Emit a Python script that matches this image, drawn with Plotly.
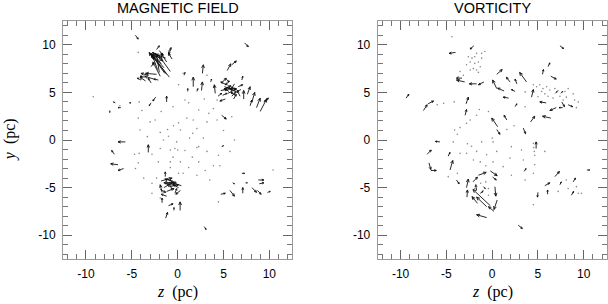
import math
import plotly.graph_objects as go

# ---------------- data (pc) ----------------
# MAGNETIC FIELD panel: arrow tails (x=z, y) and components (u, v)
mag_x = [-0.9, -1.2, -1.5, -2.2, -1.8, -3.1, -2.6, -1.3, -1.0, -2.0, -1.6, -0.7,
         -2.3, -2.6, -3.2, -3.5, -2.9,
         -1.4, -0.8, -1.9, -2.4, -2.8, -1.2, -0.6, -2.0, -2.9, -3.6, -4.0, -2.1,
         -4.6, -2.3, 0.7, 1.7, 2.7, 2.6, 4.1, 3.6, 1.1, 2.1, 5.4, 5.9, 7.3, 7.0,
         4.8, 5.0, 5.3, 5.7, 5.5, 6.0, 6.2, 6.5, 4.9, 6.8, 7.2, 7.6, 8.1, 8.6, 9.0,
         9.4, 7.9, 5.2, 4.4, 5.8, 6.6, 4.8,
         5.1, 5.6, 6.3, 4.7, 5.9, 6.9, 5.3, 6.1,
         -2.4, -1.2, -2.9, -5.3, -6.8, -6.2, -7.4,
         -5.7, -3.2, -6.9, -6.5, -5.9, -1.35,
         -1.8, -0.2, 0.4, -1.5, -0.5, 0.3, -1.7, -1.1, -1.2, -0.3, -1.7, -1.0, -0.4,
         0.27, -1.3, -1.4, -0.9, -0.6, -1.9, 0.1, -1.2,
         4.7, 5.7, 6.0, 7.0, 7.1, 7.4, 8.1, 8.8, 8.9, 8.7, 9.8, 2.9, 4.8]
mag_y = [6.6, 6.9, 7.6, 7.4, 8.0, 9.1, 8.4, 8.6, 9.3, 7.1, 9.0, 9.6,
         6.9, 6.4, 6.8, 6.2, 6.0,
         7.0, 7.2, 6.7, 8.9, 9.2, 8.2, 8.5, 9.4, 7.7, 6.6, 6.3, 6.3,
         11.0, 9.5, 6.8, 5.6, 7.0, 5.2, 4.9, 6.1, 5.1, 5.1, 7.3, 7.9, 10.2, 6.3,
         6.0, 5.3, 5.8, 6.2, 4.9, 5.3, 5.9, 5.0, 4.7, 4.6, 4.3, 4.8, 4.0, 3.4, 3.0,
         4.0, 3.6, 4.3, 4.6, 5.6, 5.6, 2.6,
         5.6, 5.1, 4.7, 5.2, 4.6, 5.3, 6.4, 4.3,
         4.5, 4.0, 3.9, 3.9, 3.9, 3.4, 3.1,
         -0.2, -1.3, -1.5, -2.6, -3.0, -3.85,
         -4.3, -4.4, -4.8, -5.0, -5.2, -5.3, -5.5, -4.1, -5.9, -5.6, -6.6, -6.9, -7.4,
         -7.4, -8.2, -4.6, -4.9, -4.3, -5.2, -5.0, -5.4,
         -5.7, -5.3, -4.5, -3.5, -5.6, -4.5, -5.0, -4.2, -4.6, -5.3, -5.5, -9.1, -0.7]
mag_u = [-2.0, -1.7, -1.3, -0.6, -0.9, 0.6, -0.5, -1.1, 0.3, -0.3, -0.8, -0.3,
         -1.2, -1.0, -0.8, -0.6, -0.3,
         -1.4, -1.2, -0.8, 0.8, 0.5, -0.6, -0.4, 0.4, 0.3, -0.5, -0.4, -0.5,
         0.3, 0.3, 0.1, 0.0, 0.1, 0.1, -0.1, 0.1, 0.0, 0.1, 0.4, 0.5, 0.4, 0.1,
         0.5, 0.8, -0.6, -0.5, 0.9, -0.9, -0.4, -0.8, 0.5, -0.3, 0.0, 0.3, 0.3, 0.4, 0.7,
         0.5, 0.2, -0.6, 0.4, 0.6, 0.5, 0.5,
         0.6, -0.5, -0.5, 0.7, 0.4, -0.4, 0.3, 0.3,
         -0.3, 0.0, -0.2, 0.2, -0.2, -0.3, 0.0,
         -0.8, 0.0, -0.3, -0.8, -0.6, 0.0,
         1.2, -1.3, -0.9, 0.9, -0.6, -0.5, -0.2, 0.7, -0.6, 0.2, 0.0, 0.5, 0.0,
         0.0, 0.2, 1.1, 1.0, -0.8, 0.6, -0.6, 0.8,
         0.5, 0.5, 0.2, 0.3, 0.0, 0.2, 0.5, 0.6, 0.5, 0.4, 0.3, 0.2, 0.2]
mag_v = [2.4, 2.2, 1.4, 1.6, 1.2, -0.5, 0.8, 0.4, 0.4, 1.9, -0.2, -0.6,
         0.1, 0.3, 0.2, 0.4, 0.5,
         1.9, 1.6, 1.5, -0.6, -0.2, 0.9, 0.6, -0.5, 0.4, 0.1, 0.2, 0.1,
         -0.4, 0.4, 0.3, 1.0, 0.9, 0.9, 0.9, 0.3, 0.3, 0.3, 0.7, 0.4, -0.4, 0.4,
         0.5, 0.4, 0.3, -0.4, 0.5, 0.1, -0.6, 0.4, 0.2, 0.6, 0.9, 0.8, 1.0, 1.0, 1.3,
         0.4, 0.6, -0.2, 0.3, -0.3, 0.2, -0.4,
         -0.2, 0.3, 0.3, 0.1, 0.4, -0.2, -0.3, 0.5,
         -0.4, 0.6, -0.3, 0.0, 0.1, 0.0, -0.2,
         0.0, 0.8, 0.4, 0.1, -0.2, 0.5,
         0.3, -0.1, 0.3, 0.5, 0.6, -0.4, 0.8, -0.4, 0.2, 0.5, 0.5, 0.2, 0.3,
         0.9, 0.6, 0.0, 0.2, 0.2, -0.3, 0.3, 0.3,
         0.1, -0.6, -0.1, 0.0, 0.6, 0.0, -0.5, 0.0, 0.1, -0.4, 0.1, -0.3, 0.1]

# MAGNETIC FIELD panel: near-zero vectors (dots)
mag_dot_x = [-4.3, 0.6, 0.1, 3.2, 4.3, 3.9, 3.4, 2.3, 1.7, 1.0, 0.1, -0.45, -1.1, -1.9,
             -4.1, -3.3, -2.45, -3.0, -3.9, -4.3, -6.3, 1.65, 2.1, 3.2, 4.3, 2.8, 1.3,
             -0.1, -1.0, -1.55, 0.3, 2.3, -0.3, -4.7, -4.2, -2.8, -1.9, -0.8, 0.0, 0.8,
             2.1, 3.2, 4.45, 5.7, -2.1, -0.8, 0.3, 1.2, 2.3, 3.9, 4.6, -4.3, -4.6, -3.7,
             -2.8, -2.3, -0.8, 0.1, 0.6, 2.1, 3.5, -2.8, -1.9, 4.45, 10.4, -9.2, 5.9,
             -4.2, 1.2, 2.9, -0.5, 0.8, -1.8, 5.0, 6.2, -0.5, 1.6, 3.0]
mag_dot_y = [9.2, 7.0, 5.8, 6.8, 4.2, 3.3, 2.8, 3.15, 2.1, 2.3, 1.8, 1.5, 1.1, 0.8,
             1.05, 0.35, 2.1, 1.9, 3.1, 2.3, 3.6, 0.7, 1.2, 1.9, 2.1, 0.2, 0.2,
             -0.2, 0.4, 0.0, 1.05, -0.7, -0.9, -1.5, -1.4, -1.5, -0.9, -1.05, -1.05, -1.1,
             -0.8, -1.2, -1.6, -1.2, -2.3, -2.3, -2.3, -2.9, -2.3, -2.7, -2.7, -2.4, -3.0, -4.0,
             -4.55, -4.0, -2.9, -3.5, -3.5, -3.7, -4.2, -5.6, -6.1, -6.5, -3.15, 4.55, 2.45,
             4.0, 3.9, 4.3, 3.5, 4.2, 3.0, 1.0, 0.0, -1.8, -1.8, -3.2]

# VORTICITY panel: arrow tails and components
vor_x = [-4.0, -2.0, 7.4, -3.0, -3.3, -1.7, -0.9, 0.5, 0.5, 1.95, 1.3, 2.5, 3.75, 2.7,
         4.3, 5.5, 6.1, 6.4, 1.8, 2.5, 5.9, 7.0, 7.7, 7.6, 8.3, 7.5, 6.9,
         -9.4, -7.5, -7.0, -2.85, -2.95, 0.6, 1.6, 3.4, 4.2, 6.4, 0.5, -5.7, 4.8,
         -7.1, -6.9, -6.7, -4.8, -4.6, -3.9,
         -2.8, -2.1, -1.5, -0.2, 0.05, 0.3, 0.55, 0.2, -0.6, -0.2, -1.6, -2.75, -0.6,
         -1.7, -1.3, -0.95,
         2.85, 3.5, 5.0, 5.75, 6.05, 6.85, 7.4, 8.85, 8.65, 10.35]
vor_y = [9.2, 9.9, 9.9, 6.1, 6.5, 5.9, 6.1, 5.4, 6.9, 6.1, 5.15, 5.1, 6.1, 5.9,
         4.5, 6.9, 7.7, 6.7, 4.4, 3.5, 3.9, 3.4, 3.4, 4.0, 3.7, 4.9, 4.9,
         4.4, 3.1, 3.8, 3.8, 2.6, 1.4, 2.1, 1.25, 1.9, 2.3, 1.1, -0.2, -0.9,
         -1.5, -2.4, -3.2, -1.7, -3.15, -4.2,
         -5.0, -4.4, -3.7, -3.25, -3.9, -4.9, -6.3, -7.5, -7.0, -6.9, -6.65, -6.0, -8.15,
         -5.3, -5.6, -4.9,
         -8.95, -3.3, -5.5, -4.8, -5.7, -3.85, -4.7, -4.4, -5.8, -3.15]
vor_u = [-0.7, -0.4, 0.4, -0.9, -0.6, -0.8, -0.6, -0.45, 0.6, -0.4, -0.7, -0.4, -0.75, -0.2,
         0.2, 0.1, 0.2, 0.6, -0.6, 0.2, -0.7, -0.7, -0.4, 0.3, 0.5, 0.2, 0.2,
         0.3, 0.4, 0.6, 0.25, 0.15, -0.65, -0.3, 0.25, 0.45, -0.9, 0.35, -0.5, 0.0,
         0.45, 0.2, 0.6, 0.2, 0.3, 0.3,
         0.2, 0.5, 0.85, 0.75, 0.4, 0.1, -0.35, -0.6, -1.1, -1.9, -0.6, 0.05, -1.1,
         -0.1, 0.3, 0.2,
         0.45, 0.2, -0.05, 0.55, 0.0, 0.5, 0.15, 0.25, 0.25, 0.3]
vor_v = [-0.1, -0.35, -0.3, 0.2, 0.0, 0.0, -0.3, 0.9, 0.5, 0.5, 0.3, 0.2, 1.0, 0.5,
         0.8, 0.5, 0.4, -0.3, 0.1, 0.3, 0.1, -0.3, 0.0, -0.5, -0.2, 0.2, 0.2,
         0.4, 0.6, 0.3, 0.7, 0.6, 0.9, 0.5, -0.6, 0.6, 0.2, -0.5, 0.05, 0.7,
         0.45, -0.7, 0.0, 0.4, 1.0, -0.4,
         0.9, 0.5, 0.3, -0.5, -0.3, -1.0, -1.0, 0.5, 1.0, 1.7, 0.7, 0.75, 0.3,
         0.6, 0.2, -0.2,
         -0.35, 0.3, -0.5, 0.3, 0.45, 0.55, 0.3, 0.4, 0.4, 0.0]

# VORTICITY panel: near-zero vectors (dots)
vor_dot_x = [-4.4, -2.6, -2.2, -1.9, -2.4, -1.9, -1.5, -1.15, -0.8, -1.3, -2.05, -1.7, -2.4,
             -2.8, -1.5, -1.15, -3.5, -3.15, -3.7, -1.7, 3.6, 3.6,
             4.85, 5.2, 5.55, 5.95, 6.3, 5.4, 5.75, 6.1, 6.85, 7.2, 7.4, 7.95, 8.3, 8.85,
             9.0, 9.4, 9.2, 8.1, 7.75, 5.0, 4.5, 6.65,
             -6.0, -5.3, -4.15, -1.4, -0.4, -4.1, -3.5, -2.8, -2.4, -1.7, -3.8, 0.0, 1.6, 2.4,
             -4.25, -2.7, -2.25, -1.15, 0.1, 2.1, 3.2, 4.5, 4.55, 4.6, 4.65, 5.75, -3.5,
             -2.8, -1.7, -0.6, 0.5, 1.95, 3.4, 4.65, 4.5, -2.05, -1.3, -0.7, 0.1, 1.2, 2.1,
             3.6, -3.8, -4.8, 4.5, 8.1, 8.3, 9.4, 9.75, 9.2, 7.2,
             -1.8, -0.4, -0.4, -1.9, -1.25, -1.0, -0.7]
vor_dot_y = [10.85, 8.75, 8.6, 8.75, 8.2, 8.05, 8.2, 9.1, 9.3, 7.7, 7.5, 7.35, 7.35,
             7.9, 7.1, 8.6, 7.2, 6.8, 6.65, 9.1, 5.05, 3.5,
             5.6, 5.8, 5.4, 5.6, 5.25, 5.1, 4.85, 4.6, 5.4, 5.2, 4.6, 5.1, 5.4, 4.85,
             4.2, 4.0, 3.4, 4.5, 4.2, 4.55, 5.8, 4.4,
             3.7, 3.85, 4.0, 3.2, 3.0, 1.05, 1.3, 1.75, 2.1, 2.6, 0.6, 0.2, 1.1, 1.5,
             -0.2, -0.4, -0.65, -0.2, -0.2, -0.7, -1.05, -0.35, -0.8, -1.2, -1.6, -1.2, -1.4,
             -1.4, -1.2, -1.55, -1.2, -1.9, -2.1, -2.6, -3.5, -2.1, -2.3, -2.7, -2.3, -2.8, -3.7,
             -4.2, -3.5, -3.85, -6.8, -4.2, -5.1, -5.6, -5.6, -4.9, -5.4,
             -4.7, -5.1, -5.8, -5.1, -4.55, -5.3, -4.4]

panel_titles = ["MAGNETIC FIELD", "VORTICITY"]
tick_vals = [-10, -5, 0, 5, 10]
tick_text = ["-10", "-5", "0", "5", "10"]
axis_range = [-12.5, 12.5]

# ---------------- arrow geometry ----------------
SX = 229.6 / 25.0   # px per pc (horizontal)
SY = 238.0 / 25.0   # px per pc (vertical)


def arrow_paths(xs, ys, us, vs):
    X, Y = [], []
    for x, y, u, v in zip(xs, ys, us, vs):
        x2, y2 = x + u, y + v
        X += [x, x2, None]
        Y += [y, y2, None]
        dxp, dyp = u * SX, v * SY
        L = math.hypot(dxp, dyp)
        if L < 1e-6:
            continue
        h = min(3.5, 0.4 * L)
        ux, uy = dxp / L, dyp / L
        pts = []
        for a in (0.42, -0.42):
            c, s = math.cos(a), math.sin(a)
            bx, by = ux * c - uy * s, ux * s + uy * c
            pts.append((x2 - h * bx / SX, y2 - h * by / SY))
        X += [pts[0][0], x2, pts[1][0], None]
        Y += [pts[0][1], y2, pts[1][1], None]
    return X, Y


fig = go.Figure()
panels = [
    (mag_x, mag_y, mag_u, mag_v, mag_dot_x, mag_dot_y, "x", "y"),
    (vor_x, vor_y, vor_u, vor_v, vor_dot_x, vor_dot_y, "x2", "y2"),
]
for ax, ay, au, av, dx, dy, xa, ya in panels:
    X, Y = arrow_paths(ax, ay, au, av)
    fig.add_trace(go.Scatter(x=X, y=Y, mode="lines", xaxis=xa, yaxis=ya,
                             line=dict(color="#111111", width=0.9), hoverinfo="skip",
                             showlegend=False))
    fig.add_trace(go.Scatter(x=dx, y=dy, mode="markers", xaxis=xa, yaxis=ya,
                             marker=dict(color="#8a8a8a", size=1.6, line=dict(width=0)),
                             hoverinfo="skip", showlegend=False))

tickfont = dict(family="Liberation Sans, Arial, sans-serif", size=12, color="black")
axis_common = dict(
    range=axis_range, showgrid=False, zeroline=False,
    showline=True, linecolor="#9a9a9a", linewidth=1, mirror="ticks",
    ticks="inside", ticklen=9, tickwidth=1, tickcolor="#666666",
    tickmode="array", tickvals=tick_vals, ticktext=tick_text,
    tickfont=tickfont, ticklabelstandoff=4,
    minor=dict(ticks="inside", ticklen=5, tickwidth=1, tickcolor="#777777", dtick=1,
               showgrid=False),
    fixedrange=True,
)

fig.update_layout(
    width=608, height=304,
    margin=dict(l=63, r=1, t=21, b=45),
    paper_bgcolor="white", plot_bgcolor="white",
    xaxis=dict(domain=[0, 0.4215], anchor="y", **axis_common),
    yaxis=dict(domain=[0, 1], anchor="x", **axis_common),
    xaxis2=dict(domain=[0.5785, 0.9993], anchor="y2", **axis_common),
    yaxis2=dict(domain=[0, 1], anchor="x2", **axis_common),
)

serif = dict(family="Liberation Serif, Times New Roman, serif", size=16, color="black")
annots = []
for i, (xr, yr) in enumerate([("x domain", "y domain"), ("x2 domain", "y2 domain")]):
    annots.append(dict(text=panel_titles[i], xref=xr, yref=yr, x=0.5, y=1.055,
                       xanchor="center", yanchor="middle", showarrow=False,
                       font=dict(family="Liberation Sans, Arial, sans-serif", size=14.5,
                                 color="black")))
    annots.append(dict(text="<i>z</i>\u00a0\u00a0(pc)", xref=xr, yref=yr, x=0.5, y=-0.138,
                       xanchor="center", yanchor="middle", showarrow=False, font=serif))
annots.append(dict(text="<i>y</i>\u00a0\u00a0(pc)", xref="paper", yref="paper",
                   x=-0.097, y=0.5, xanchor="center", yanchor="middle",
                   textangle=-90, showarrow=False, font=serif))
fig.update_layout(annotations=annots)

fig.write_html("out.html", config={"displayModeBar": False, "staticPlot": True},
               post_script="document.body.style.margin='0px';")
